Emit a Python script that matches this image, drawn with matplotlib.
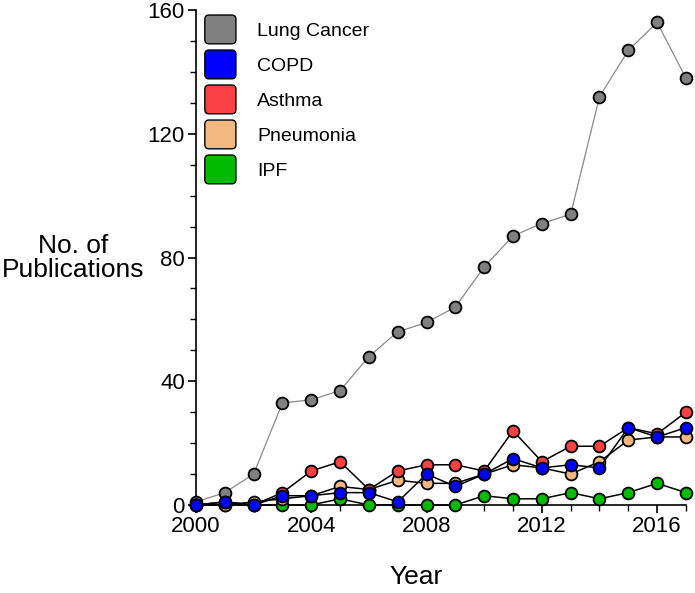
import matplotlib.pyplot as plt
from matplotlib.patches import FancyBboxPatch, Patch
from matplotlib.legend_handler import HandlerPatch
from matplotlib.ticker import MultipleLocator

plt.rcParams["font.family"] = ["Liberation Sans", "DejaVu Sans"]

years = list(range(2000, 2018))
lung_cancer = [1, 4, 10, 33, 34, 37, 48, 56, 59, 64, 77, 87, 91, 94, 132, 147, 156, 138]
copd = [0, 1, 0, 3, 3, 4, 4, 1, 10, 6, 10, 15, 12, 13, 12, 25, 22, 25]
asthma = [0, 1, 0, 4, 11, 14, 5, 11, 13, 13, 11, 24, 14, 19, 19, 25, 23, 30]
pneumonia = [0, 0, 1, 2, 3, 6, 5, 8, 7, 7, 10, 13, 12, 10, 14, 21, 22, 22]
ipf = [0, 0, 0, 0, 0, 2, 0, 0, 0, 0, 3, 2, 2, 4, 2, 4, 7, 4]

labels = ["Lung Cancer", "COPD", "Asthma", "Pneumonia", "IPF"]
colors = ["#808080", "#0000FF", "#F94144", "#F2B880", "#00BB00"]


def rounded_box(legend, orig_handle, xdescent, ydescent, width, height, fontsize):
  return FancyBboxPatch((-xdescent, -ydescent), width, height,
                        boxstyle="round,pad=0,rounding_size=3")


fig = plt.figure(figsize=(6.95, 5.93), dpi=100)
ax = fig.add_axes([0.282, 0.1484, 0.705, 0.8346])

ax.plot(years, lung_cancer, "-o", color="#8a8a8a", lw=0.9, ms=8.5,
        mfc=colors[0], mec="black", mew=1.3, clip_on=False, zorder=3)
series = [(ipf, colors[4]), (pneumonia, colors[3]), (asthma, colors[2]), (copd, colors[1])]
for vals, c in series:
  ax.plot(years, vals, "-o", color="black", lw=1.1, ms=8.5,
          mfc=c, mec="black", mew=1.3, clip_on=False, zorder=3)

ax.set_xlim(2000, 2017)
ax.set_ylim(0, 160)
ax.xaxis.set_major_locator(MultipleLocator(4))
ax.xaxis.set_minor_locator(MultipleLocator(1))
ax.yaxis.set_major_locator(MultipleLocator(40))
ax.yaxis.set_minor_locator(MultipleLocator(10))
ax.spines["top"].set_visible(False)
ax.spines["right"].set_visible(False)
for s in ("left", "bottom"):
  ax.spines[s].set_linewidth(1.2)
ax.tick_params(which="major", length=6, width=1.2, labelsize=16, pad=2)
ax.tick_params(which="minor", length=4, width=1.0)

ax.set_ylabel("No. of\nPublications", fontsize=19, rotation=0,
              ha="center", va="center", linespacing=1.0)
ax.yaxis.set_label_coords(-0.25, 0.5)
ax.set_xlabel("Year", fontsize=19, va="center")
ax.xaxis.set_label_coords(0.449, -0.145)

handles = [Patch(facecolor=c, edgecolor="black", linewidth=1.0) for c in colors]
ax.legend(handles, labels, loc="upper left", bbox_to_anchor=(0.018, 0.99),
          frameon=False, fontsize=14, borderpad=0, borderaxespad=0,
          handlelength=1.6, handleheight=1.9, handletextpad=1.1,
          labelspacing=0.32,
          handler_map={Patch: HandlerPatch(patch_func=rounded_box)})

fig.savefig("out.png", dpi=100)
